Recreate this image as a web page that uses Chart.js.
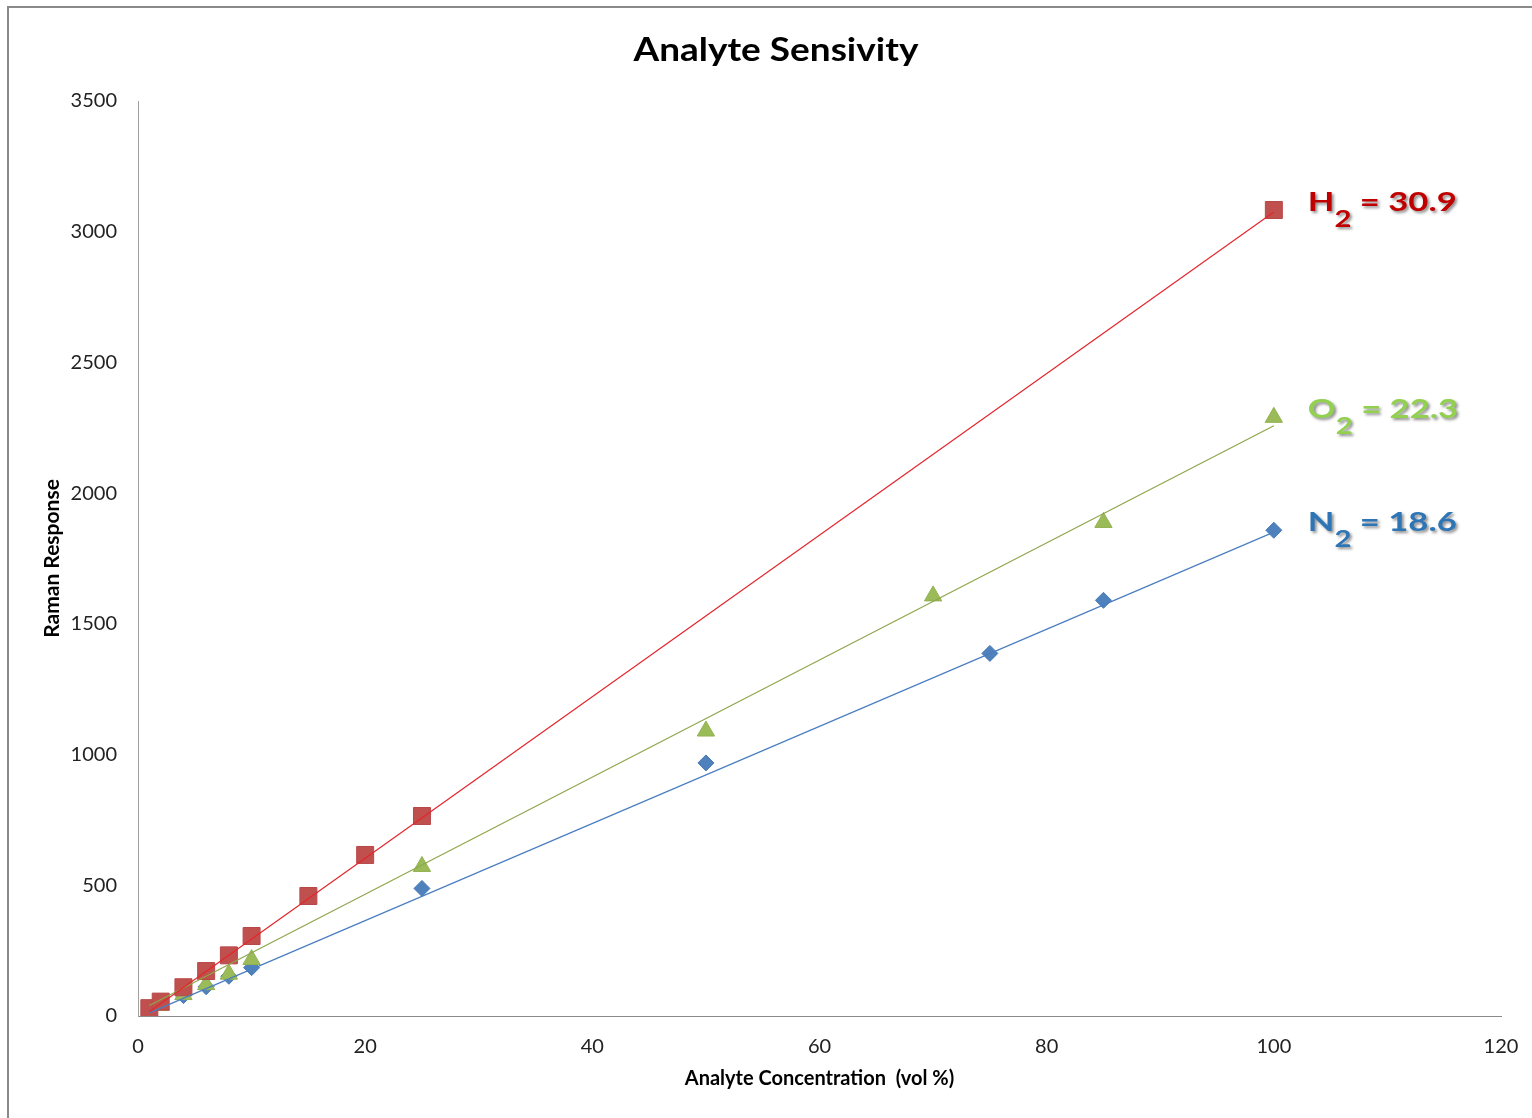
<!DOCTYPE html>
<html>
<head>
<meta charset="utf-8">
<script src="https://cdn.jsdelivr.net/npm/chart.js@4.4.0/dist/chart.umd.min.js"></script>
<style>
  html, body { margin: 0; background: #fff; overflow: hidden; }
  #wrap { width: 1532px; height: 1118px; overflow: hidden; }
  canvas { display: block; }
</style>
</head>
<body>
<div id="wrap"><canvas id="chart" width="1548" height="1118"></canvas></div>
<script>
// Values
const h2Conc = [1, 2, 4, 6, 8, 10, 15, 20, 25, 100];
const h2Resp = [30, 55, 110, 172, 232, 306, 459, 616, 765, 3083];

const o2Conc = [2, 4, 6, 8, 10, 25, 50, 70, 85, 100];
const o2Resp = [40, 82, 120, 160, 216, 572, 1090, 1607, 1888, 2290];

const n2Conc = [1, 4, 6, 8, 10, 25, 50, 75, 85, 100];
const n2Resp = [18, 78, 112, 152, 185, 488, 968, 1387, 1590, 1858];

// linear trend lines (end points)
const trendConc = [1, 100];
const h2Trend = [16, 3075];
const o2Trend = [40, 2258];
const n2Trend = [12, 1851];

// labels shown at the right
const gasNames = ['H', 'O', 'N'];
const gasSlopes = ['30.9', '22.3', '18.6'];
const gasLabelColors = ['#C00000', '#92D050', '#2E75B6'];

const xTicks = [0, 20, 40, 60, 80, 100, 120];
const yTicks = [0, 500, 1000, 1500, 2000, 2500, 3000, 3500];

function pts(xs, ys) {
  return xs.map((x, i) => ({ x: x, y: ys[i] }));
}

const FONT = 'Lato';

// grey frame round the chart (only left and top edges are in view)
const framePlugin = {
  id: 'frame',
  beforeDraw(chart) {
    const ctx = chart.ctx;
    ctx.save();
    ctx.strokeStyle = '#8a8a8a';
    ctx.lineWidth = 2;
    ctx.beginPath();
    ctx.moveTo(8, 1118);
    ctx.lineTo(8, 7);
    ctx.lineTo(1548, 7);
    ctx.stroke();
    ctx.restore();
  }
};

// text drawn on top: title and the slope labels
const labelPlugin = {
  id: 'labels',
  afterDraw(chart) {
    const ctx = chart.ctx;
    const xs = chart.scales.x, ys = chart.scales.y;

    ctx.save();
    ctx.fillStyle = '#000';
    ctx.font = 'bold 33px ' + FONT;
    ctx.textAlign = 'center';
    ctx.textBaseline = 'middle';
    ctx.translate(776, 50);
    ctx.scale(1.12, 1);
    ctx.fillText('Analyte Sensivity', 0, 0);
    ctx.restore();

    const lastVals = [h2Resp[h2Resp.length - 1], o2Resp[o2Resp.length - 1], n2Resp[n2Resp.length - 1]];
    gasNames.forEach((name, i) => {
      const px = xs.getPixelForValue(100) + 34;
      const py = ys.getPixelForValue(lastVals[i]) + 1;
      ctx.save();
      ctx.fillStyle = gasLabelColors[i];
      ctx.shadowColor = 'rgba(0,0,0,0.45)';
      ctx.shadowOffsetX = 2;
      ctx.shadowOffsetY = 2;
      ctx.shadowBlur = 3;
      ctx.textBaseline = 'alphabetic';
      ctx.translate(px, py);
      ctx.scale(1.33, 1);
      let cx = 0;
      ctx.font = 'bold 26px ' + FONT;
      ctx.fillText(name, cx, 0);
      cx += ctx.measureText(name).width;
      ctx.font = 'bold 22px ' + FONT;
      ctx.fillText('2', cx, 16);
      cx += ctx.measureText('2').width;
      ctx.font = 'bold 26px ' + FONT;
      ctx.fillText(' = ' + gasSlopes[i], cx, 0);
      ctx.restore();
    });
  }
};

const chart = new Chart(document.getElementById('chart'), {
  type: 'scatter',
  data: {
    datasets: [
      { data: pts(trendConc, h2Trend), showLine: true, borderColor: '#E3262C', borderWidth: 1.2, pointRadius: 0, order: 0 },
      { data: pts(trendConc, o2Trend), showLine: true, borderColor: '#8EA64C', borderWidth: 1.2, pointRadius: 0, order: 1 },
      { data: pts(trendConc, n2Trend), showLine: true, borderColor: '#4A7EC0', borderWidth: 1.2, pointRadius: 0, order: 2 },
      { label: 'H2', data: pts(h2Conc, h2Resp), pointStyle: 'rect', pointRadius: 12, backgroundColor: '#C0504D', borderColor: '#B8474A', borderWidth: 1, order: 3 },
      { label: 'O2', data: pts(o2Conc, o2Resp), pointStyle: 'triangle', pointRadius: 10, backgroundColor: '#9BBB59', borderColor: '#92B252', borderWidth: 1, order: 4 },
      { label: 'N2', data: pts(n2Conc, n2Resp), pointStyle: 'rectRot', pointRadius: 8, backgroundColor: '#4F81BD', borderColor: '#4779B5', borderWidth: 1, order: 5 }
    ]
  },
  options: {
    responsive: false,
    animation: false,
    devicePixelRatio: 1,
    layout: { padding: { top: 101, right: 47, bottom: 0, left: 0 } },
    plugins: {
      legend: { display: false },
      tooltip: { enabled: false }
    },
    scales: {
      x: {
        type: 'linear',
        min: 0,
        max: 120,
        afterBuildTicks: s => { s.ticks = xTicks.map(v => ({ value: v })); },
        afterFit: s => { s.height = 102; s.paddingLeft = 0; s.paddingRight = 0; },
        grid: { display: false, drawTicks: false },
        border: { display: true, color: '#8a8a8a', width: 1 },
        ticks: { color: '#222', font: { family: FONT, size: 20 }, padding: 19, maxRotation: 0, callback: v => String(v) },
        title: { display: true, text: 'Analyte Concentration  (vol %)', color: '#000', font: { family: FONT, size: 20, weight: 'bold' }, padding: { top: 0, bottom: 27 } }
      },
      y: {
        type: 'linear',
        min: 0,
        max: 3500,
        afterBuildTicks: s => { s.ticks = yTicks.map(v => ({ value: v })); },
        afterFit: s => { s.width = 138; },
        grid: { display: false, drawTicks: false },
        border: { display: true, color: '#a0a0a0', width: 1 },
        ticks: { color: '#222', font: { family: FONT, size: 20 }, padding: 21, callback: v => String(v) },
        title: { display: true, text: 'Raman Response', color: '#000', font: { family: FONT, size: 21, weight: 'bold' }, padding: { top: 40, bottom: 0 } }
      }
    }
  },
  plugins: [framePlugin, labelPlugin]
});
</script>
</body>
</html>
